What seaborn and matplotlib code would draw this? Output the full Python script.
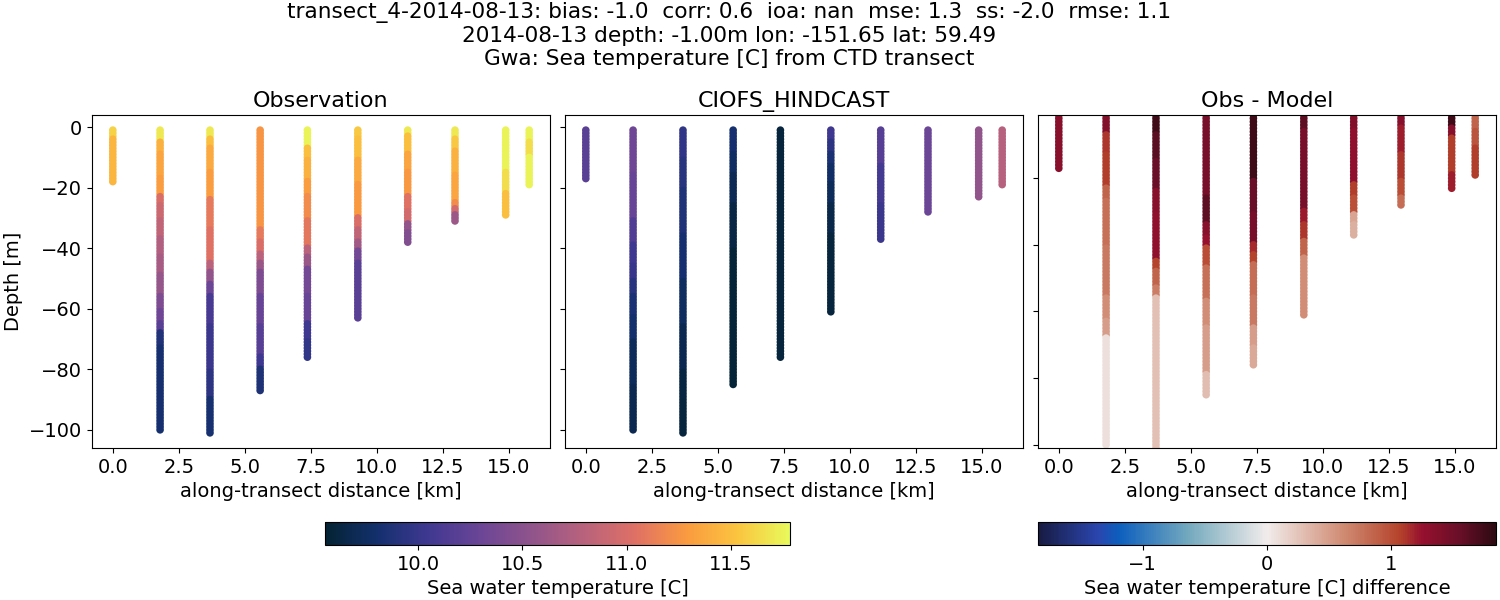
import matplotlib
matplotlib.use("Agg")
import matplotlib.pyplot as plt
from matplotlib.cm import ScalarMappable
from matplotlib.colors import LinearSegmentedColormap, Normalize
import pandas as pd
import seaborn as sns

# station positions along the transect [km]
distance_km = [0.0, 1.79, 3.68, 5.58, 7.37, 9.28, 11.17, 12.96, 14.88, 15.77]

# each station: (bottom depth of a layer, value in that layer), starting from -1 m
obs_temp = [
    [(-3, 11.6), (-18, 11.45)],
    [(-4, 11.7), (-8, 11.42), (-16, 11.35), (-22, 11.3), (-25, 11.0), (-30, 10.92), (-36, 10.85), (-42, 10.75),
     (-48, 10.68), (-55, 10.58), (-60, 10.42), (-64, 10.32), (-67, 10.2), (-72, 9.88), (-100, 9.82)],
    [(-3, 11.7), (-6, 11.5), (-14, 11.38), (-23, 11.3), (-33, 11.1), (-44, 11.05), (-47, 10.8), (-51, 10.55),
     (-55, 10.3), (-65, 10.1), (-80, 10.02), (-89, 9.95), (-101, 9.83)],
    [(-33, 11.26), (-37, 11.1), (-41, 11.0), (-44, 10.8), (-47, 10.6), (-55, 10.42), (-65, 10.28), (-75, 10.18),
     (-79, 10.05), (-87, 9.86)],
    [(-6, 11.75), (-10, 11.5), (-17, 11.42), (-22, 11.3), (-30, 11.2), (-39, 11.08), (-42, 10.8), (-46, 10.6),
     (-55, 10.35), (-64, 10.28), (-70, 10.05), (-76, 9.98)],
    [(-3, 11.55), (-10, 11.5), (-18, 11.38), (-29, 11.28), (-33, 11.0), (-37, 10.85), (-40, 10.65), (-44, 10.35),
     (-63, 10.2)],
    [(-2, 11.7), (-8, 11.5), (-14, 11.35), (-22, 11.27), (-27, 11.05), (-31, 10.95), (-34, 10.55), (-38, 10.45)],
    [(-3, 11.7), (-7, 11.55), (-15, 11.42), (-24, 11.35), (-26, 11.2), (-28, 10.95), (-31, 10.62)],
    [(-14, 11.75), (-21, 11.65), (-29, 11.5)],
    [(-4, 11.75), (-9, 11.65), (-19, 11.75)],
]
model_temp = [
    [(-17, 10.2)],
    [(-15, 10.32), (-30, 10.28), (-38, 10.15), (-45, 10.05), (-50, 10.0), (-55, 9.92), (-62, 9.85), (-70, 9.8),
     (-85, 9.72), (-100, 9.68)],
    [(-10, 9.97), (-20, 9.92), (-35, 9.87), (-50, 9.82), (-65, 9.75), (-80, 9.68), (-90, 9.62), (-101, 9.6)],
    [(-8, 9.82), (-15, 9.76), (-25, 9.7), (-40, 9.64), (-85, 9.58)],
    [(-76, 9.6)],
    [(-4, 10.05), (-8, 9.95), (-12, 9.85), (-18, 9.78), (-25, 9.72), (-35, 9.65), (-61, 9.6)],
    [(-12, 10.18), (-25, 10.08), (-37, 10.02)],
    [(-28, 10.3)],
    [(-23, 10.55)],
    [(-19, 10.78)],
]
diff_temp = [
    [(-17, 1.33)],
    [(-6, 1.38), (-12, 1.12), (-22, 1.08), (-26, 0.85), (-40, 0.78), (-55, 0.72), (-62, 0.6), (-67, 0.5), (-100, 0.08)],
    [(-6, 1.75), (-14, 1.62), (-23, 1.55), (-30, 1.35), (-44, 1.3), (-47, 1.05), (-52, 0.85), (-55, 0.7), (-101, 0.28)],
    [(-25, 1.45), (-33, 1.6), (-37, 1.35), (-40, 1.25), (-46, 1.0), (-56, 0.78), (-64, 0.6), (-78, 0.5), (-85, 0.3)],
    [(-20, 1.75), (-30, 1.55), (-39, 1.45), (-42, 1.15), (-45, 1.05), (-55, 0.8), (-64, 0.72), (-70, 0.5), (-76, 0.42)],
    [(-5, 1.6), (-29, 1.45), (-33, 1.22), (-38, 1.12), (-43, 0.85), (-61, 0.6)],
    [(-5, 1.38), (-21, 1.3), (-25, 1.08), (-30, 0.98), (-33, 0.45), (-37, 0.38)],
    [(-4, 1.35), (-12, 1.2), (-20, 1.12), (-25, 1.0), (-28, 0.8)],
    [(-4, 1.75), (-7, 1.35), (-18, 1.08), (-23, 1.2)],
    [(-5, 0.85), (-10, 0.95), (-19, 1.08)],
]

# stand-ins for the cmocean maps
thermal = LinearSegmentedColormap.from_list("thermal", [
    "#042333", "#13306d", "#403891", "#6b4596", "#90548b",
    "#b8627d", "#de7065", "#fa9a40", "#fbc440", "#e8fa5b"])
balance = LinearSegmentedColormap.from_list("balance", [
    (0.0, "#181c43"), (0.13, "#2a45ae"), (0.175, "#0c5ebe"), (0.33, "#75aabe"), (0.5, "#f1eceb"),
    (0.667, "#d08b73"), (0.79, "#b5432b"), (0.84, "#96102e"), (0.92, "#6a0f28"), (1.0, "#2d0a12")])


def to_frame(layers):
    rows = []
    for km, station in zip(distance_km, layers):
        depth = -1
        for bottom, value in station:
            while depth >= bottom:
                rows.append((km, depth, value))
                depth -= 1
    return pd.DataFrame(rows, columns=["distance", "depth", "value"])


plt.rcParams["font.size"] = 14

fig = plt.figure(figsize=(15, 6), dpi=100)
w, h = 1500, 600
axes = [fig.add_axes([x / w, 1 - 448 / h, 458 / w, 333 / h]) for x in (92, 565, 1038)]

temp_norm = Normalize(9.554, 11.783)
diff_norm = Normalize(-1.84, 1.84)

panels = [
    (obs_temp, thermal, temp_norm, "Observation"),
    (model_temp, thermal, temp_norm, "CIOFS_HINDCAST"),
    (diff_temp, balance, diff_norm, "Obs - Model"),
]
for ax, (layers, cmap, norm, title) in zip(axes, panels):
    sns.scatterplot(data=to_frame(layers), x="distance", y="depth", hue="value",
                    palette=cmap, hue_norm=norm, s=30, linewidth=0, legend=False, ax=ax)
    ax.set_title(title, fontsize=16)
    ax.set_xlabel("along-transect distance [km]")
    ax.set_ylabel("")

axes[0].set_ylabel("Depth [m]")
axes[1].set_ylim(axes[0].get_ylim())
axes[1].tick_params(labelleft=False)
axes[2].set_ylim(-101, -1)
axes[2].set_yticks([-100, -80, -60, -40, -20])
axes[2].tick_params(labelleft=False)

fig.suptitle("transect_4-2014-08-13: bias: -1.0  corr: 0.6  ioa: nan  mse: 1.3  ss: -2.0  rmse: 1.1\n"
             "2014-08-13 depth: -1.00m lon: -151.65 lat: 59.49\n"
             "Gwa: Sea temperature [C] from CTD transect",
             fontsize=15.6, x=729 / w, y=1 - 2 / h, va="top", linespacing=1.2)

cax1 = fig.add_axes([325 / w, 1 - 545 / h, 465 / w, 23 / h])
cb1 = fig.colorbar(ScalarMappable(norm=temp_norm, cmap=thermal), cax=cax1, orientation="horizontal")
cb1.set_ticks([10.0, 10.5, 11.0, 11.5])
cb1.set_label("Sea water temperature [C]")

cax2 = fig.add_axes([1038 / w, 1 - 545 / h, 458 / w, 23 / h])
cb2 = fig.colorbar(ScalarMappable(norm=diff_norm, cmap=balance), cax=cax2, orientation="horizontal")
cb2.set_ticks([-1, 0, 1])
cb2.set_label("Sea water temperature [C] difference")

fig.savefig("out.png", dpi=100)
